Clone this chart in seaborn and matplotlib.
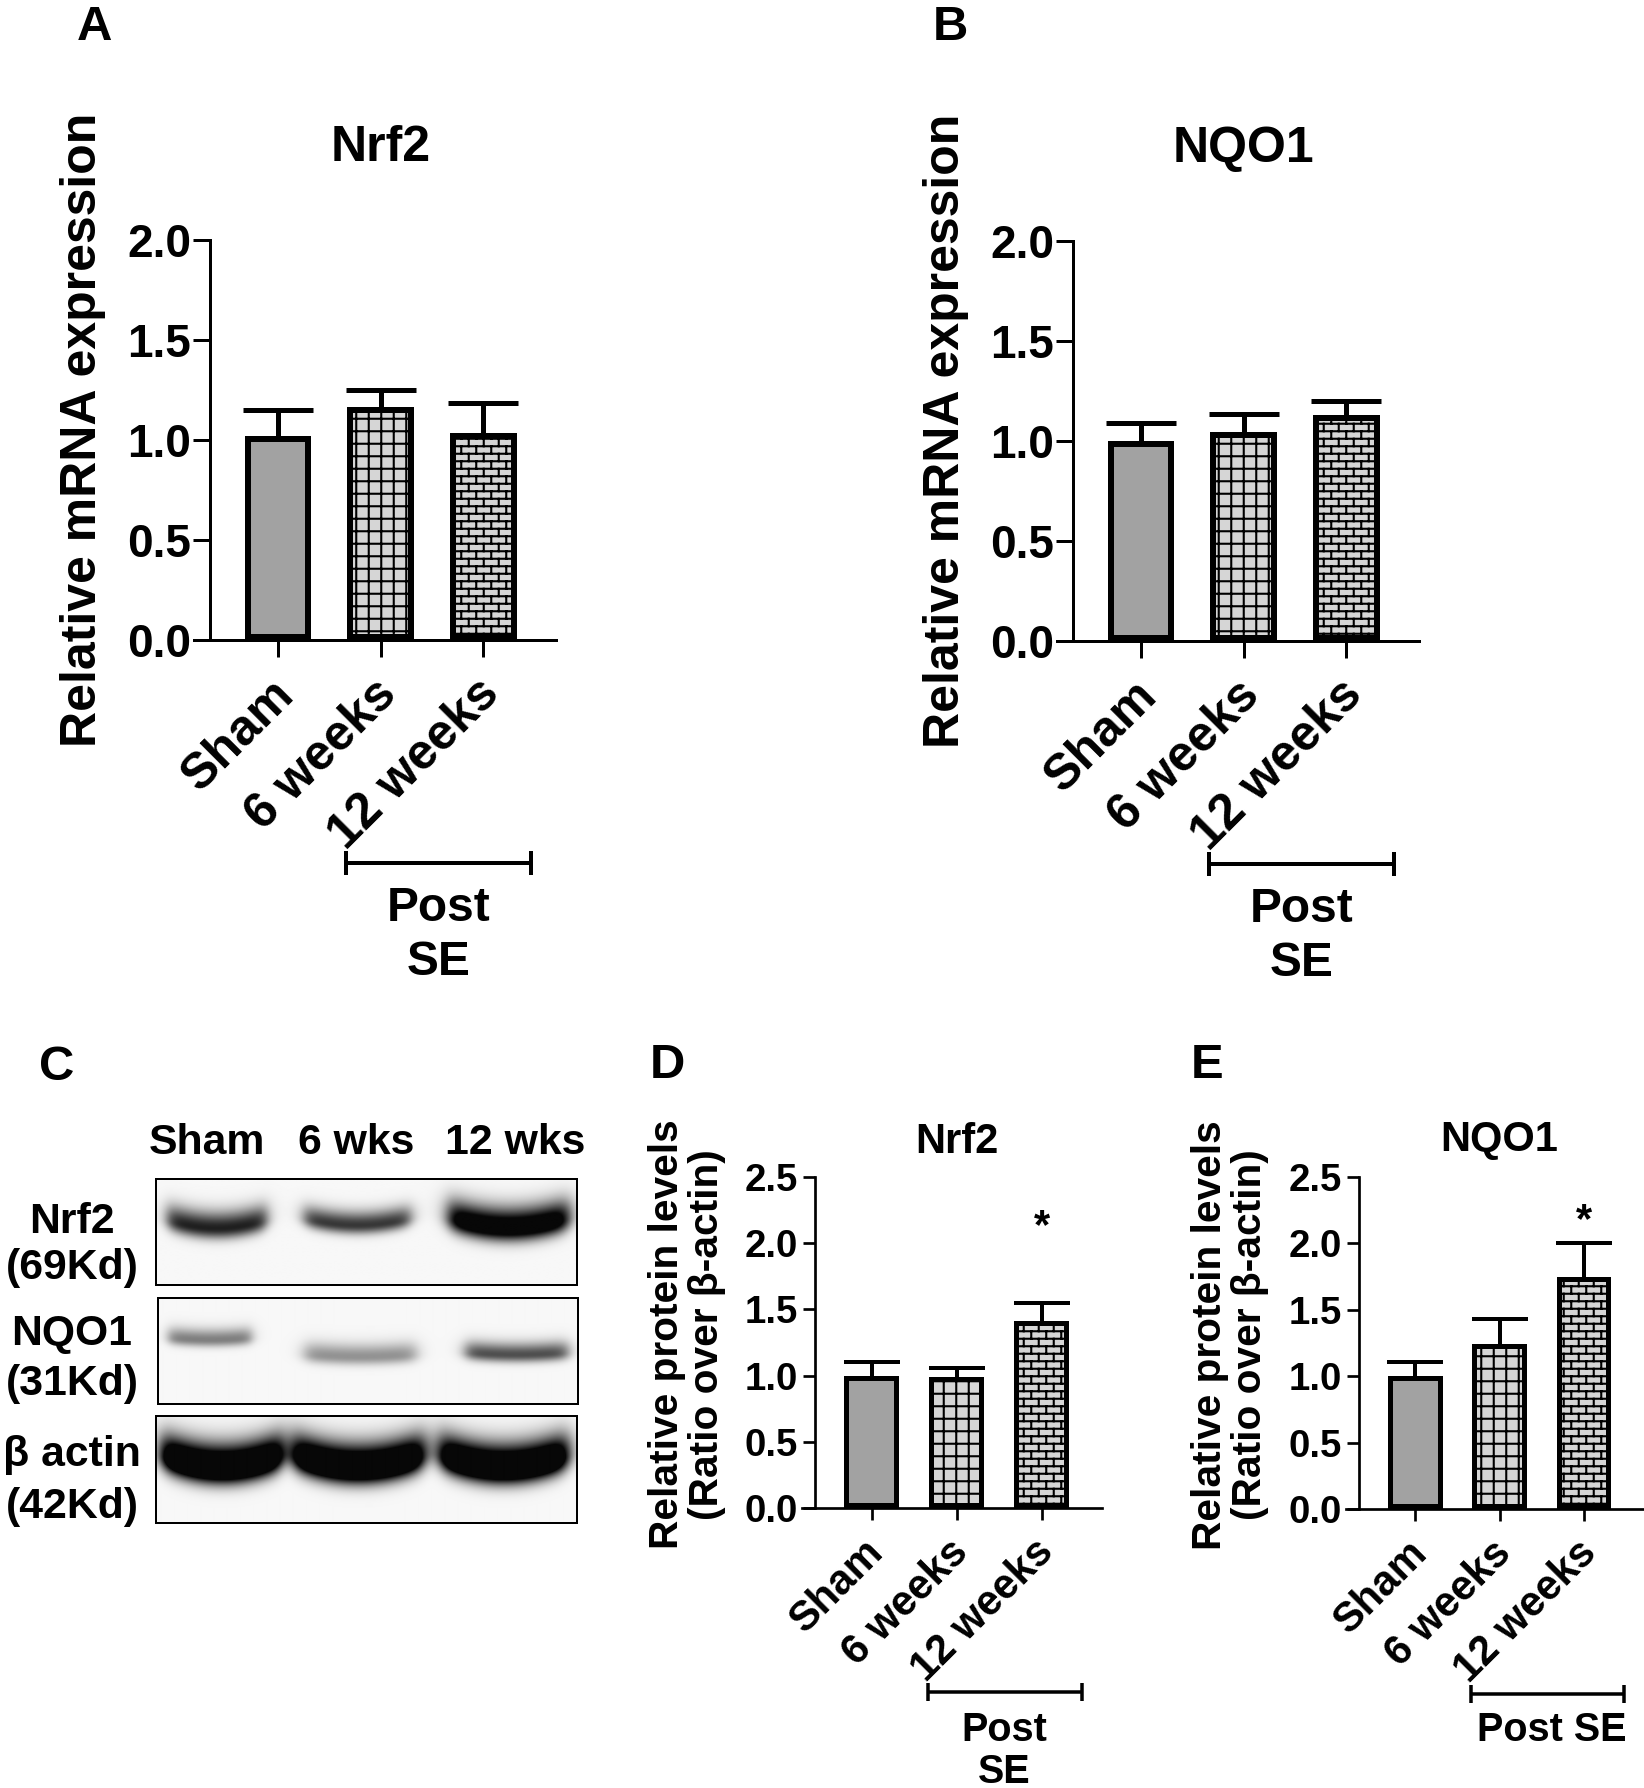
import warnings
warnings.filterwarnings('ignore')
import numpy as np
import matplotlib
matplotlib.use('Agg')
import matplotlib.pyplot as plt
import matplotlib.hatch as mhatch
import matplotlib.transforms as mtransforms
from matplotlib.path import Path
from matplotlib.ticker import FormatStrFormatter
import seaborn as sns

# ---------------- data ----------------
groups = ["Sham", "6 weeks", "12 weeks"]

mrna_nrf2_mean = [1.02, 1.165, 1.035]
mrna_nrf2_sem = [0.13, 0.085, 0.15]
mrna_nqo1_mean = [1.00, 1.047, 1.13]
mrna_nqo1_sem = [0.09, 0.09, 0.07]

prot_nrf2_mean = [1.00, 0.99, 1.41]
prot_nrf2_sem = [0.105, 0.065, 0.14]
prot_nqo1_mean = [1.00, 1.24, 1.745]
prot_nqo1_sem = [0.11, 0.19, 0.255]
prot_nrf2_sig = ["", "", "*"]
prot_nqo1_sig = ["", "", "*"]

mrna_yticks = [0.0, 0.5, 1.0, 1.5, 2.0]
prot_yticks = [0.0, 0.5, 1.0, 1.5, 2.0, 2.5]

blot_lanes = ["Sham", "6 wks", "12 wks"]
blot_names = ["Nrf2", "NQO1", "β actin"]
blot_sizes = ["(69Kd)", "(31Kd)", "(42Kd)"]
blot_nrf2_intensity = [0.9, 0.8, 1.3]
blot_nqo1_intensity = [0.5, 0.42, 0.7]
blot_actin_intensity = [1.7, 1.7, 1.7]

# ---------------- style ----------------
W, H, DPI = 1644, 1788, 75
sns.set_theme(style="white")
plt.rcParams['font.family'] = ['Liberation Sans', 'DejaVu Sans']
plt.rcParams['font.weight'] = 'bold'
plt.rcParams['axes.labelweight'] = 'bold'
plt.rcParams['hatch.linewidth'] = 2.0
for k in ['text.color', 'axes.labelcolor', 'xtick.color', 'ytick.color',
          'axes.edgecolor']:
    plt.rcParams[k] = 'black'

PX = 72.0 / DPI  # points per pixel

fills = ["#a2a2a2", "#d6d6d6", "#d6d6d6"]
hatches = [None, "+", "b"]


class BrickHatch(mhatch.HatchPatternBase):
    R, C = 10, 5

    def __init__(self, hatch, density):
        self.segs = []
        if hatch is not None and hatch.count('b'):
            R, C = self.R, self.C
            for r in range(R):
                y = (r + 0.5) / R
                self.segs.append(((0.0, y), (1.0, y)))
            for r in range(R):
                off = 0.25 if r % 2 == 0 else 0.75
                y0 = (r + 0.5) / R
                y1 = (r + 1.5) / R
                for c in range(C):
                    x = (c + off) / C
                    if y1 <= 1.0:
                        self.segs.append(((x, y0), (x, y1)))
                    else:
                        self.segs.append(((x, y0), (x, 1.0)))
                        self.segs.append(((x, 0.0), (x, y1 - 1.0)))
        self.num_vertices = 2 * len(self.segs)

    def set_vertices_and_codes(self, vertices, codes):
        arr = np.array(self.segs, dtype=float).reshape(-1, 2)
        vertices[:] = arr
        codes[0::2] = Path.MOVETO
        codes[1::2] = Path.LINETO


mhatch._hatch_types.append(BrickHatch)

fig = plt.figure(figsize=(W / DPI, H / DPI), dpi=DPI)


def rect(l, t, r, b):
    return [l / W, 1 - b / H, (r - l) / W, (b - t) / H]


def ftext(x, y, s, **kw):
    fig.text(x / W, 1 - y / H, s, **kw)


def bar_panel(ax, means, sems, title, ylabel, ymax, yticks, sc, sig=None):
    sns.barplot(x=groups, y=means, hue=groups, palette=fills, saturation=1,
                width=0.65, errorbar=None, legend=False, edgecolor='black',
                linewidth=sc['bar_lw'] * 2 * PX, ax=ax, zorder=3)
    bars = sorted(ax.patches, key=lambda p: p.get_x())
    for p, h in zip(bars, hatches):
        if h:
            p.set_hatch(h)
        p.set_linewidth(sc['bar_lw'] * 2 * PX)
        p.set_edgecolor('black')
        p.set_clip_path(p)
    eb = ax.errorbar(range(3), means, yerr=[np.zeros(3), sems], fmt='none',
                     ecolor='black', elinewidth=sc['err_lw'] * PX,
                     capsize=sc['cap'] * PX, capthick=sc['err_lw'] * PX,
                     zorder=2)
    for cl in eb[1]:
        if np.allclose(cl.get_ydata(), means):
            cl.remove()
    ax.set_xlim(-0.82, 2.71)
    ax.set_ylim(0, ymax)
    ax.set_yticks(yticks)
    ax.yaxis.set_major_formatter(FormatStrFormatter('%.1f'))
    for s in ['top', 'right']:
        ax.spines[s].set_visible(False)
    for s in ['left', 'bottom']:
        ax.spines[s].set_linewidth(sc['spine'] * PX)
        ax.spines[s].set_color('black')
    ax.spines['left'].set_position(('data', -0.665))
    ax.spines['left'].set_bounds(0, ymax)
    ax.tick_params(axis='y', direction='out', length=sc['tick'] * PX,
                   width=sc['spine'] * PX, pad=sc['ypad'] * PX,
                   labelsize=sc['tickfs'], colors='black', left=True)
    ax.tick_params(axis='x', direction='out', length=sc['tick'] * PX,
                   width=sc['spine'] * PX, pad=sc['xpad'] * PX,
                   labelsize=sc['xfs'], colors='black', bottom=True)
    ax.set_xticks(range(3))
    ax.set_xticklabels(groups, rotation=45, ha='right', va='center',
                       rotation_mode='anchor', fontweight='bold')
    shift = mtransforms.ScaledTranslation(sc['xshift'] / DPI, 0,
                                          fig.dpi_scale_trans)
    for t in ax.get_xticklabels():
        t.set_transform(t.get_transform() + shift)
    for t in ax.get_yticklabels():
        t.set_fontweight('bold')
    ax.set_xlabel('')
    ax.set_ylabel(ylabel, fontsize=sc['yfs'], fontweight='bold',
                  va='center', ha='center', linespacing=sc.get('ls', 1.2),
                  color='black')
    ax.yaxis.set_label_coords(sc['ylx'], 0.525)
    ax.set_facecolor('white')
    ax.grid(False)
    trans = mtransforms.blended_transform_factory(ax.transData, ax.transAxes)
    ax.text(1, sc['title_y'], title, transform=trans, ha='center',
            va='center', fontsize=sc['titlefs'], fontweight='bold')
    # Post SE bracket
    by = sc['br_y']
    ax.plot([0.66, 2.47], [by, by], color='black', lw=sc['br_lw'] * PX,
            transform=trans, clip_on=False, solid_capstyle='butt')
    for xx in [0.66, 2.47]:
        ax.plot([xx, xx], [by - sc['br_cap'], by + sc['br_cap']],
                color='black', lw=sc['br_lw'] * PX, transform=trans,
                clip_on=False, solid_capstyle='butt')
    for txt, ty in sc['post']:
        ax.text(sc['post_x'], ty, txt, transform=trans, ha='center',
                va='center', fontsize=sc['postfs'], fontweight='bold')
    if sig:
        for i, s in enumerate(sig):
            if s:
                ax.text(i, sc['star_y'], s, ha='center', va='center',
                        fontsize=sc['starfs'], fontweight='bold')


big = dict(bar_lw=6, err_lw=5, cap=35, spine=3, tick=17, ypad=2, xpad=30,
           xshift=9,
           tickfs=44, xfs=48, yfs=48, titlefs=48, ylx=-0.307,
           title_y=1.23, br_y=-0.5575, br_cap=0.03, br_lw=4,
           post=[("Post", -0.67), ("SE", -0.805)], post_x=1.57, postfs=46)
small = dict(bar_lw=5, err_lw=4, cap=28, spine=2.7, tick=12, ypad=5,
             xpad=26, xshift=6, tickfs=37, xfs=40, yfs=39, titlefs=40,
             ylx=-0.383,
             title_y=1.105, br_y=-0.556, br_cap=0.027, br_lw=3.5,
             post=[("Post", -0.67), ("SE", -0.798)], post_x=1.56, postfs=38,
             starfs=40, star_y=2.12, ls=1.05)
small_e = dict(small)
small_e.update(ylx=-0.39, post=[("Post SE", -0.665)], post_x=1.62,
               star_y=2.17, title_y=1.11)

axA = fig.add_axes(rect(194, 240, 556, 640))
bar_panel(axA, mrna_nrf2_mean, mrna_nrf2_sem, "Nrf2",
          "Relative mRNA expression", 2.0, mrna_yticks, big)
axB = fig.add_axes(rect(1057, 241, 1419, 641))
bar_panel(axB, mrna_nqo1_mean, mrna_nqo1_sem, "NQO1",
          "Relative mRNA expression", 2.0, mrna_yticks, big)
axD = fig.add_axes(rect(802, 1177, 1102, 1508))
bar_panel(axD, prot_nrf2_mean, prot_nrf2_sem, "Nrf2",
          "Relative protein levels\n(Ratio over β-actin)", 2.5, prot_yticks,
          small, sig=prot_nrf2_sig)
axE = fig.add_axes(rect(1346, 1177, 1644, 1509))
bar_panel(axE, prot_nqo1_mean, prot_nqo1_sem, "NQO1",
          "Relative protein levels\n(Ratio over β-actin)", 2.5, prot_yticks,
          small_e, sig=prot_nqo1_sig)

# ---------------- western blot (panel C) ----------------


def band_image(w, h, xcs, hws, ycs, sys, amps, curve):
    xx, yy = np.meshgrid(np.arange(w) + 0.5, np.arange(h) + 0.5)
    dens = np.zeros_like(xx)
    for xc, hw, yc, sy, a in zip(xcs, hws, ycs, sys, amps):
        u = (xx - xc) / hw
        hx = 1.0 / (1.0 + np.exp((np.abs(u) - 0.88) / 0.07))
        yline = yc - curve * sy * u ** 2
        d = yy - yline
        s = np.where(d > 0, sy * 0.8, sy * 1.3)
        dens += a * hx * np.exp(-0.5 * (d / s) ** 2)
    img = 1.0 - np.clip(dens, 0, 1) * 0.97
    return img * 0.97


blot_boxes = [(156, 1179, 577, 1285), (158, 1298, 578, 1404),
              (156, 1416, 577, 1523)]
blot_specs = [
    dict(xcs=[61, 201, 352], hws=[56, 60, 68], ycs=[50, 47, 50],
         sys=[9, 7.5, 11], amps=blot_nrf2_intensity, curve=1.2),
    dict(xcs=[52, 202, 358], hws=[47, 63, 58], ycs=[42, 59, 57],
         sys=[6, 7, 6.5], amps=blot_nqo1_intensity, curve=0.5),
    dict(xcs=[66, 202, 347], hws=[68, 74, 72], ycs=[53, 53, 53],
         sys=[13, 13, 13], amps=blot_actin_intensity, curve=1.3),
]
for (l, t, r, b), spec in zip(blot_boxes, blot_specs):
    bax = fig.add_axes(rect(l, t, r, b))
    img = band_image(r - l, b - t, **spec)
    bax.imshow(img, cmap='gray', vmin=0, vmax=1, aspect='auto',
               interpolation='bilinear')
    bax.set_xticks([])
    bax.set_yticks([])
    for s in bax.spines.values():
        s.set_visible(True)
        s.set_linewidth(2 * PX)
        s.set_color('black')

for name, x in zip(blot_lanes, [207, 356, 515]):
    ftext(x, 1143, name, ha='center', va='center', fontsize=41,
          fontweight='bold')
for name, size, y1, y2 in zip(blot_names, blot_sizes, [1222, 1334, 1455],
                              [1268, 1384, 1507]):
    ftext(72, y1, name, ha='center', va='center', fontsize=41,
          fontweight='bold')
    ftext(72, y2, size, ha='center', va='center', fontsize=41,
          fontweight='bold')

# ---------------- panel letters ----------------
for letter, x, y in [("A", 94, 28), ("B", 950, 28), ("C", 57, 1067),
                     ("D", 667, 1065), ("E", 1207, 1065)]:
    ftext(x, y, letter, ha='center', va='center', fontsize=47,
          fontweight='bold')

fig.savefig("out.png", dpi=DPI, facecolor='white')
